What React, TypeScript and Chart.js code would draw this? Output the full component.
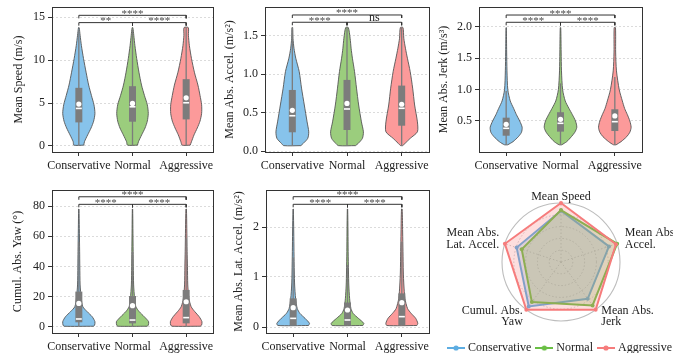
import React, { useEffect, useRef } from 'react';
import { Chart, registerables } from 'chart.js';

Chart.register(...registerables);

const FONT = "'Liberation Serif', 'Times New Roman', serif";
Chart.defaults.font.family = FONT;
Chart.defaults.font.size = 12;
Chart.defaults.color = '#222';

const GROUPS = ['Conservative', 'Normal', 'Aggressive'];
const GROUP_X = [0, 1, 2];
const VIOLIN_FILLS = ['#87c3eb', '#9bcd7d', '#fc9a9a'];
const LINE_COLORS = ['#5dade2', '#6abf45', '#f67c7c'];
const FILL_COLORS = ['rgba(93,173,226,0.25)', 'rgba(106,191,69,0.25)', 'rgba(246,124,124,0.25)'];

// ---------- Mean Speed ----------
const SPEED_TICKS = [0, 5, 10, 15];
const SPEED_GRID = [0.1, 0.5, 1.3, 2.1, 2.9, 3.8, 4.8, 5.9, 7.1, 8.6, 10.2, 11.7, 12.9, 13.8];
const SPEED_W_CONS = [0.31, 0.35, 0.55, 0.76, 0.92, 1.0, 0.94, 0.78, 0.61, 0.45, 0.29, 0.16, 0.08, 0.02];
const SPEED_W_NORM = [0.31, 0.37, 0.57, 0.78, 0.92, 0.98, 0.92, 0.74, 0.56, 0.4, 0.26, 0.15, 0.08, 0.02];
const SPEED_W_AGGR = [0.25, 0.33, 0.49, 0.69, 0.86, 0.96, 0.96, 0.86, 0.73, 0.51, 0.33, 0.2, 0.14, 0.13];
const SPEED_Q1 = [2.75, 2.83, 3.1];
const SPEED_Q3 = [6.78, 6.97, 7.79];
const SPEED_MED = [4.38, 4.57, 5.04];
const SPEED_MEAN = [4.88, 4.96, 5.62];
const SPEED_LO = [0.1, 0.1, 0.1];
const SPEED_HI = [13.5, 13.6, 13.8];
const SPEED_SIG = ['**', '****', '****'];
const SPEED_BRACKETS = [14.38, 15.23];

// ---------- Mean Abs. Accel. ----------
const ACC_TICKS = [0, 0.5, 1.0, 1.5];
const ACC_GRID = [0.07, 0.1, 0.165, 0.25, 0.38, 0.6, 0.82, 1.035, 1.21, 1.34, 1.47, 1.61];
const ACC_W_CONS = [0.52, 0.67, 0.94, 1.0, 0.9, 0.73, 0.56, 0.42, 0.21, 0.1, 0.04, 0.02];
const ACC_W_NORM = [0.52, 0.69, 0.94, 1.0, 0.88, 0.71, 0.58, 0.46, 0.33, 0.25, 0.19, 0.08];
const ACC_W_AGGR = [0.06, 0.21, 0.52, 0.96, 0.96, 0.79, 0.67, 0.52, 0.35, 0.23, 0.13, 0.08];
const ACC_Q1 = [0.244, 0.274, 0.33];
const ACC_Q3 = [0.796, 0.927, 0.853];
const ACC_MED = [0.46, 0.548, 0.557];
const ACC_MEAN = [0.53, 0.62, 0.61];
const ACC_LO = [0.07, 0.07, 0.07];
const ACC_HI = [1.61, 1.61, 1.61];
const ACC_SIG = ['****', 'ns', '****'];
const ACC_BRACKETS = [1.679, 1.774];

// ---------- Mean Abs. Jerk ----------
const JERK_TICKS = [0.5, 1.0, 1.5, 2.0];
const JERK_GRID = [0.12, 0.17, 0.25, 0.32, 0.4, 0.5, 0.6, 0.7, 0.82, 1.0, 1.3, 1.6, 1.99];
const JERK_W_CONS = [0.1, 0.42, 0.75, 0.94, 0.98, 0.83, 0.63, 0.46, 0.25, 0.1, 0.05, 0.03, 0.01];
const JERK_W_NORM = [0.08, 0.38, 0.67, 0.88, 1.0, 0.92, 0.73, 0.52, 0.29, 0.13, 0.06, 0.04, 0.015];
const JERK_W_AGGR = [0.08, 0.38, 0.73, 0.92, 1.0, 0.92, 0.77, 0.6, 0.46, 0.27, 0.1, 0.05, 0.04];
const JERK_Q1 = [0.265, 0.33, 0.34];
const JERK_Q3 = [0.553, 0.64, 0.687];
const JERK_MED = [0.383, 0.463, 0.489];
const JERK_MEAN = [0.447, 0.527, 0.58];
const JERK_LO = [0.12, 0.12, 0.12];
const JERK_HI = [0.98, 1.1, 1.2];
const JERK_SIG = ['****', '****', '****'];
const JERK_BRACKETS = [2.075, 2.191];

// ---------- Cumul. Abs. Yaw ----------
const YAW_TICKS = [0, 20, 40, 60, 80];
const YAW_GRID = [0.5, 1.3, 3.5, 6.8, 10.1, 13.4, 19, 27.8, 40, 50, 65, 78];
const YAW_W_CONS = [0.92, 0.98, 1.0, 0.83, 0.52, 0.25, 0.15, 0.08, 0.06, 0.05, 0.03, 0.01];
const YAW_W_NORM = [0.92, 0.98, 1.0, 0.73, 0.42, 0.21, 0.13, 0.07, 0.05, 0.04, 0.025, 0.01];
const YAW_W_AGGR = [0.88, 0.96, 0.98, 0.81, 0.54, 0.31, 0.17, 0.1, 0.08, 0.06, 0.04, 0.015];
const YAW_Q1 = [3.1, 2.4, 2.4];
const YAW_Q3 = [23.4, 20.5, 24.5];
const YAW_MED = [5.3, 4.6, 6.2];
const YAW_MEAN = [15.6, 14.1, 16.7];
const YAW_LO = [0.5, 0.5, 0.5];
const YAW_HI = [56.4, 49.8, 58.6];
const YAW_SIG = ['****', '****', '****'];
const YAW_BRACKETS = [81.1, 86.1];

// ---------- Mean Abs. Lat. Accel. ----------
const LAT_TICKS = [0, 1, 2];
const LAT_GRID = [0.03, 0.073, 0.173, 0.27, 0.37, 0.57, 0.84, 1.1, 1.51, 1.9, 2.36];
const LAT_W_CONS = [0.94, 1.0, 0.73, 0.42, 0.25, 0.15, 0.09, 0.07, 0.05, 0.035, 0.01];
const LAT_W_NORM = [0.94, 1.0, 0.67, 0.35, 0.21, 0.13, 0.08, 0.06, 0.04, 0.03, 0.01];
const LAT_W_AGGR = [0.92, 0.98, 0.85, 0.58, 0.35, 0.19, 0.125, 0.09, 0.07, 0.05, 0.02];
const LAT_Q1 = [0.03, 0.03, 0.03];
const LAT_Q3 = [0.573, 0.49, 0.673];
const LAT_MED = [0.173, 0.14, 0.207];
const LAT_MEAN = [0.387, 0.34, 0.487];
const LAT_LO = [0.03, 0.03, 0.03];
const LAT_HI = [1.39, 1.24, 1.71];
const LAT_SIG = ['****', '****', '****'];
const LAT_BRACKETS = [2.454, 2.606];

// ---------- Radar ----------
const RADAR_LABELS = [['Mean Speed'], ['Mean Abs.', 'Accel.'], ['Mean Abs.', 'Jerk'], ['Cumul. Abs.', 'Yaw'], ['Mean Abs.', 'Lat. Accel.']];
const RADAR_CONS = [0.87, 0.855, 0.77, 0.93, 0.79];
const RADAR_NORM = [0.88, 1.0, 0.91, 0.84, 0.7];
const RADAR_AGGR = [1.0, 0.98, 1.0, 1.0, 1.0];
const RADAR_TICK_STEP = 0.2;

const MAX_HW = 0.3;
const RADAR_RADIUS = 59;

type Panel = {
  title: string; ticks: number[]; decimals: number; yMin: number; yMax: number;
  grid: number[]; widths: number[][]; q1: number[]; q3: number[]; med: number[]; mean: number[];
  lo: number[]; hi: number[]; sig: string[]; brackets: number[];
  box: { left: number; top: number; width: number; height: number; yWidth: number; padTop: number; padRight: number; titlePad: number };
};

const PANELS: Panel[] = [
  {
    title: 'Mean Speed (m/s)', ticks: SPEED_TICKS, decimals: 0, yMin: -0.7, yMax: 16.2,
    grid: SPEED_GRID, widths: [SPEED_W_CONS, SPEED_W_NORM, SPEED_W_AGGR], q1: SPEED_Q1, q3: SPEED_Q3,
    med: SPEED_MED, mean: SPEED_MEAN, lo: SPEED_LO, hi: SPEED_HI, sig: SPEED_SIG, brackets: SPEED_BRACKETS,
    box: { left: 0, top: 0, width: 222, height: 172, yWidth: 52, padTop: 7, padRight: 9, titlePad: 11.3 },
  },
  {
    title: 'Mean Abs. Accel. (m/s\u00b2)', ticks: ACC_TICKS, decimals: 1, yMin: -0.013, yMax: 1.878,
    grid: ACC_GRID, widths: [ACC_W_CONS, ACC_W_NORM, ACC_W_AGGR], q1: ACC_Q1, q3: ACC_Q3,
    med: ACC_MED, mean: ACC_MEAN, lo: ACC_LO, hi: ACC_HI, sig: ACC_SIG, brackets: ACC_BRACKETS,
    box: { left: 222, top: 0, width: 220, height: 172, yWidth: 43, padTop: 7, padRight: 13, titlePad: 0.8 },
  },
  {
    title: 'Mean Abs. Jerk (m/s\u00b3)', ticks: JERK_TICKS, decimals: 1, yMin: 0.005, yMax: 2.319,
    grid: JERK_GRID, widths: [JERK_W_CONS, JERK_W_NORM, JERK_W_AGGR], q1: JERK_Q1, q3: JERK_Q3,
    med: JERK_MED, mean: JERK_MEAN, lo: JERK_LO, hi: JERK_HI, sig: JERK_SIG, brackets: JERK_BRACKETS,
    box: { left: 432, top: 0, width: 220, height: 172, yWidth: 47, padTop: 7, padRight: 10, titlePad: 4.8 },
  },
  {
    title: 'Cumul. Abs. Yaw (\u00b0)', ticks: YAW_TICKS, decimals: 0, yMin: -3.97, yMax: 90.58,
    grid: YAW_GRID, widths: [YAW_W_CONS, YAW_W_NORM, YAW_W_AGGR], q1: YAW_Q1, q3: YAW_Q3,
    med: YAW_MED, mean: YAW_MEAN, lo: YAW_LO, hi: YAW_HI, sig: YAW_SIG, brackets: YAW_BRACKETS,
    box: { left: 0, top: 176, width: 222, height: 177, yWidth: 52, padTop: 14, padRight: 9, titlePad: 11.1 },
  },
  {
    title: 'Mean Abs. Lat. Accel. (m/s\u00b2)', ticks: LAT_TICKS, decimals: 0, yMin: -0.12, yMax: 2.74,
    grid: LAT_GRID, widths: [LAT_W_CONS, LAT_W_NORM, LAT_W_AGGR], q1: LAT_Q1, q3: LAT_Q3,
    med: LAT_MED, mean: LAT_MEAN, lo: LAT_LO, hi: LAT_HI, sig: LAT_SIG, brackets: LAT_BRACKETS,
    box: { left: 222, top: 176, width: 220, height: 177, yWidth: 44, padTop: 14, padRight: 13, titlePad: 9.8 },
  },
];

const framePlugin = {
  id: 'frame',
  afterDraw(chart: any) {
    const { ctx, chartArea: a } = chart;
    ctx.save();
    ctx.strokeStyle = '#333';
    ctx.lineWidth = 1;
    ctx.strokeRect(Math.round(a.left) + 0.5, Math.round(a.top) + 0.5, Math.round(a.right - a.left), Math.round(a.bottom - a.top));
    ctx.restore();
  },
};

function buildDatasets(p: Panel) {
  const ds: any[] = [];
  const line = { showLine: true, pointRadius: 0, pointHoverRadius: 0, tension: 0 };
  for (let g = 0; g < 3; g++) {
    const w = p.widths[g];
    const right = p.grid.map((y, i) => ({ x: GROUP_X[g] + w[i] * MAX_HW, y }));
    const left = p.grid.map((y, i) => ({ x: GROUP_X[g] - w[i] * MAX_HW, y })).reverse();
    ds.push({ ...line, data: [...right, ...left, right[0]], fill: 'shape', backgroundColor: VIOLIN_FILLS[g], borderColor: '#555', borderWidth: 0.9, tension: 0.25, order: 10 });
    ds.push({ ...line, data: [{ x: GROUP_X[g], y: p.lo[g] }, { x: GROUP_X[g], y: p.hi[g] }], borderColor: '#7c7c7c', borderWidth: 1.3, order: 8 });
    ds.push({ ...line, data: [{ x: GROUP_X[g], y: p.q1[g] }, { x: GROUP_X[g], y: p.q3[g] }], borderColor: '#7c7c7c', borderWidth: 7, borderCapStyle: 'butt', order: 6 });
    ds.push({ ...line, data: [{ x: GROUP_X[g] - 0.055, y: p.med[g] }, { x: GROUP_X[g] + 0.055, y: p.med[g] }], borderColor: '#ffffff', borderWidth: 1.6, borderCapStyle: 'butt', order: 4 });
  }
  ds.push({ data: p.mean.map((m, g) => ({ x: GROUP_X[g], y: m })), showLine: false, pointRadius: 2.6, pointHoverRadius: 2.6, pointBackgroundColor: '#ffffff', pointBorderWidth: 0, order: 2 });
  const d = (p.yMax - p.yMin) * 0.021;
  const [lo, hi] = p.brackets;
  const br = (a: number, b: number, y: number) => [{ x: a, y: y - d }, { x: a, y }, { x: b, y }, { x: b, y: y - d }];
  ds.push({ ...line, data: br(0, 1, lo), borderColor: '#333', borderWidth: 1, order: 1 });
  ds.push({ ...line, data: br(1, 2, lo), borderColor: '#333', borderWidth: 1, order: 1 });
  ds.push({ ...line, data: br(0, 2, hi), borderColor: '#333', borderWidth: 1, order: 1 });
  return ds;
}

function ViolinPanel({ p }: { p: Panel }) {
  const ref = useRef<HTMLCanvasElement>(null);
  useEffect(() => {
    const sigPlugin = {
      id: 'sig',
      afterDatasetsDraw(chart: any) {
        const { ctx } = chart;
        const xs = chart.scales.x, ys = chart.scales.y;
        const items: [number, number, string][] = [[0.5, p.brackets[0], p.sig[0]], [1.5, p.brackets[0], p.sig[1]], [1, p.brackets[1], p.sig[2]]];
        ctx.save();
        ctx.textAlign = 'center';
        ctx.textBaseline = 'alphabetic';
        for (const [x, y, t] of items) {
          const stars = t.startsWith('*');
          ctx.font = (stars ? '11px ' : '12px ') + FONT;
          ctx.fillStyle = stars ? '#4a4a4a' : '#222';
          ctx.fillText(t, xs.getPixelForValue(x), ys.getPixelForValue(y) + (stars ? 1.5 : -0.8));
        }
        ctx.restore();
      },
    };
    const chart = new Chart(ref.current as HTMLCanvasElement, {
      type: 'scatter',
      data: { datasets: buildDatasets(p) },
      plugins: [framePlugin, sigPlugin],
      options: {
        animation: false,
        responsive: false,
        events: [],
        layout: { padding: { left: 0, top: p.box.padTop, right: p.box.padRight, bottom: 0 } },
        plugins: { legend: { display: false }, tooltip: { enabled: false } },
        scales: {
          x: {
            type: 'linear', min: -0.5, max: 2.5,
            afterBuildTicks: (s: any) => { s.ticks = GROUP_X.map((v) => ({ value: v })); },
            afterFit: (s: any) => { s.height = 20; s.paddingLeft = 0; s.paddingRight = 0; },
            ticks: { callback: (v: any) => GROUPS[Math.round(Number(v))], maxRotation: 0, minRotation: 0, autoSkip: false, color: '#222', font: { size: 12, family: FONT }, padding: 3 },
            grid: { drawOnChartArea: false, drawTicks: true, tickLength: 4, tickColor: '#333', color: '#333', tickWidth: 1 },
            border: { display: false },
          },
          y: {
            type: 'linear', min: p.yMin, max: p.yMax,
            afterBuildTicks: (s: any) => { s.ticks = p.ticks.map((v) => ({ value: v })); },
            afterFit: (s: any) => { s.width = p.box.yWidth; s.paddingTop = 0; s.paddingBottom = 0; },
            ticks: { callback: (v: any) => Number(v).toFixed(p.decimals), color: '#222', font: { size: 12, family: FONT }, padding: 3 },
            grid: { color: '#d2d2d2', lineWidth: 0.8, tickColor: '#333', tickLength: 4, tickWidth: 1 },
            border: { display: false, dash: [2, 2] },
            title: { display: true, text: p.title, color: '#222', font: { size: 12, family: FONT }, padding: p.box.titlePad },
          },
        },
      } as any,
    });
    return () => chart.destroy();
  }, []);
  const b = p.box;
  return (
    <div style={{ position: 'absolute', left: b.left, top: b.top, width: b.width, height: b.height }}>
      <canvas ref={ref} width={b.width} height={b.height} style={{ width: b.width, height: b.height, display: 'block' }} />
    </div>
  );
}

function makeMarker(color: string) {
  const c = document.createElement('canvas');
  c.width = 18;
  c.height = 8;
  const g = c.getContext('2d') as CanvasRenderingContext2D;
  g.strokeStyle = color;
  g.lineWidth = 2;
  g.beginPath();
  g.moveTo(0, 4);
  g.lineTo(18, 4);
  g.stroke();
  g.fillStyle = color;
  g.beginPath();
  g.arc(9, 4, 2.6, 0, Math.PI * 2);
  g.fill();
  return c;
}

const RADAR_BOX = { left: 430, top: 183, width: 261, height: 181 };

function RadarPanel() {
  const ref = useRef<HTMLCanvasElement>(null);
  useEffect(() => {
    const markers = LINE_COLORS.map(makeMarker);
    const labelPlugin = {
      id: 'radarLabels',
      afterDraw(chart: any) {
        const { ctx } = chart;
        const s = chart.scales.r;
        ctx.save();
        ctx.font = '12px ' + FONT;
        ctx.fillStyle = '#222';
        RADAR_LABELS.forEach((lines, i) => {
          const pos = s.getPointPosition(i, s.drawingArea + 6);
          const dx = pos.x - s.xCenter;
          if (Math.abs(dx) < 1) {
            ctx.textAlign = 'center';
            ctx.textBaseline = 'alphabetic';
            ctx.fillText(lines[0], pos.x, pos.y + 2.5);
          } else {
            ctx.textAlign = dx > 0 ? 'left' : 'right';
            ctx.textBaseline = 'middle';
            const x = pos.x + (dx > 0 ? 2 : 0);
            const cy = pos.y + (pos.y > s.yCenter ? 2 : -3);
            const lh = 11.5;
            lines.forEach((t, k) => ctx.fillText(t, x, cy + (k - (lines.length - 1) / 2) * lh));
          }
        });
        ctx.restore();
      },
    };
    const series = [RADAR_CONS, RADAR_NORM, RADAR_AGGR];
    const chart = new Chart(ref.current as HTMLCanvasElement, {
      type: 'radar',
      data: {
        labels: RADAR_LABELS.map((l) => l.join(' ')),
        datasets: series.map((data, i) => ({
          label: GROUPS[i], data, borderColor: LINE_COLORS[i], backgroundColor: FILL_COLORS[i], borderWidth: 2,
          pointRadius: 2, pointHoverRadius: 2, pointBackgroundColor: LINE_COLORS[i], pointBorderWidth: 0, fill: true,
          order: 3 - i,
        })),
      },
      plugins: [labelPlugin],
      options: {
        animation: false,
        responsive: false,
        events: [],
        layout: { padding: { left: 6, right: 5, top: 20, bottom: 0 } },
        plugins: {
          tooltip: { enabled: false },
          legend: {
            display: true, position: 'bottom',
            labels: {
              usePointStyle: true, pointStyleWidth: 12, padding: 7, color: '#222', font: { size: 12, family: FONT },
              generateLabels: (c: any) => c.data.datasets.map((d: any, i: number) => ({
                text: d.label, pointStyle: markers[i], fillStyle: LINE_COLORS[i], strokeStyle: LINE_COLORS[i], lineWidth: 0, hidden: false, datasetIndex: i, fontColor: '#222',
              })),
            },
          },
        },
        scales: {
          r: {
            min: 0, max: 1,
            afterFit: (s: any) => { s.drawingArea = RADAR_RADIUS; s.yCenter = Math.round(s.top + RADAR_RADIUS); },
            ticks: { display: false, stepSize: RADAR_TICK_STEP },
            pointLabels: { display: false },
            grid: { circular: true, color: '#bdbdbd', lineWidth: (c: any) => (c.tick && c.tick.value >= 0.999 ? 1.1 : 0.8) },
            border: { dash: (c: any) => (c.tick && c.tick.value >= 0.999 ? [] : [1.5, 2]) },
            angleLines: { color: '#bdbdbd', lineWidth: 0.8, borderDash: [1.5, 2] },
          },
        },
      } as any,
    });
    return () => chart.destroy();
  }, []);
  const b = RADAR_BOX;
  return (
    <div style={{ position: 'absolute', left: b.left, top: b.top, width: b.width, height: b.height }}>
      <canvas ref={ref} width={b.width} height={b.height} style={{ width: b.width, height: b.height, display: 'block' }} />
    </div>
  );
}

export default function App() {
  return (
    <div style={{ position: 'absolute', left: 0, top: 0, width: 673, height: 353, overflow: 'hidden', background: '#fff' }}>
      {PANELS.map((p, i) => (
        <ViolinPanel key={i} p={p} />
      ))}
      <RadarPanel />
    </div>
  );
}
